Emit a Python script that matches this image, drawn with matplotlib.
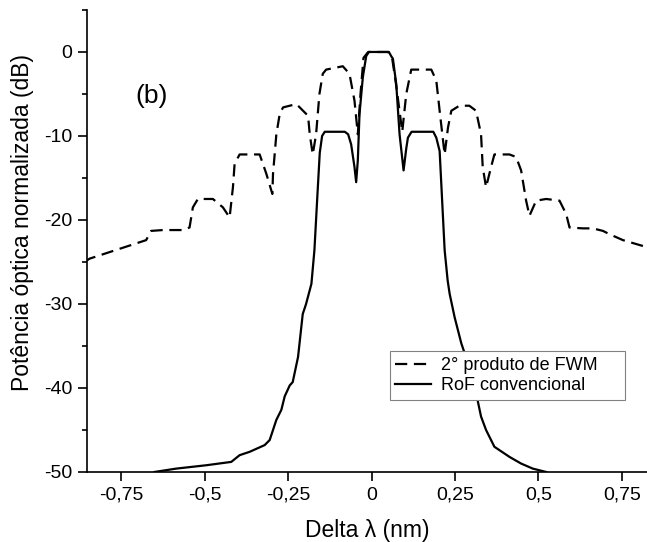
import matplotlib
matplotlib.use("Agg")
import matplotlib.pyplot as plt
import numpy as np

plt.rcParams['font.family'] = ['Liberation Sans', 'DejaVu Sans']
plt.rcParams['axes.unicode_minus'] = False

# RoF convencional (solid)
rof_x = [-0.65, -0.585, -0.495, -0.42, -0.395, -0.365, -0.32, -0.305, -0.285,
         -0.27, -0.26, -0.245, -0.236, -0.22, -0.206, -0.196, -0.18, -0.171,
         -0.162, -0.155, -0.148, -0.14, -0.08, -0.07, -0.061, -0.051, -0.046,
         -0.041, -0.036, -0.026, -0.016, -0.008, 0.052, 0.059, 0.064, 0.074,
         0.084, 0.096, 0.104, 0.109, 0.12, 0.185, 0.194, 0.204, 0.219, 0.228,
         0.234, 0.249, 0.269, 0.303, 0.328, 0.343, 0.368, 0.413, 0.448, 0.483,
         0.523]
rof_y = [-50.0, -49.6, -49.2, -48.8, -48.0, -47.6, -46.8, -46.2, -43.8,
         -42.6, -41.0, -39.7, -39.3, -36.3, -31.2, -30.0, -27.6, -23.6,
         -17.0, -12.0, -10.0, -9.5, -9.5, -9.8, -11.0, -13.7, -15.5,
         -12.9, -7.4, -3.0, -0.5, 0.0, 0.0, -0.5, -0.8, -3.8,
         -9.8, -14.1, -11.5, -10.2, -9.5, -9.5, -10.2, -11.8, -23.6, -27.2,
         -28.8, -31.6, -34.7, -38.7, -43.4, -45.0, -47.0, -48.2, -49.0, -49.6,
         -50.0]

# 2o produto de FWM (dashed)
fwm_x = [-0.86, -0.844, -0.675, -0.66, -0.625, -0.565, -0.545, -0.535, -0.52,
         -0.475, -0.445, -0.425, -0.415, -0.41, -0.395, -0.335, -0.315, -0.297,
         -0.295, -0.285, -0.275, -0.265, -0.225, -0.19, -0.185, -0.176, -0.166,
         -0.156, -0.146, -0.136, -0.086, -0.066, -0.051, -0.041, -0.033, -0.024,
         -0.01, 0.05, 0.062, 0.074, 0.092, 0.104, 0.119, 0.179, 0.194, 0.204,
         0.219, 0.229, 0.239, 0.263, 0.293, 0.313, 0.328, 0.333, 0.343, 0.358,
         0.368, 0.383, 0.413, 0.433, 0.448, 0.463, 0.473, 0.493, 0.523, 0.563,
         0.583, 0.593, 0.633, 0.663, 0.693, 0.713, 0.753, 0.83]
fwm_y = [-25.0, -24.6, -22.4, -21.3, -21.2, -21.2, -20.9, -18.5, -17.5,
         -17.5, -18.5, -19.7, -16.1, -13.3, -12.2, -12.2, -14.5, -16.9,
         -14.5, -9.8, -7.4, -6.6, -6.2, -7.6, -9.8, -12.2, -9.8,
         -5.0, -2.6, -2.1, -1.7, -2.6, -5.8, -9.8, -5.0, -0.7,
         0.0, 0.0, -0.8, -4.0, -9.5, -5.0, -2.1, -2.1, -3.4, -7.0,
         -12.2, -9.0, -7.0, -6.4, -6.4, -7.0, -9.8, -13.7, -16.1, -13.7,
         -12.2, -12.2, -12.2, -12.5, -14.1, -17.7, -19.5, -17.7, -17.5, -17.7,
         -19.3, -20.9, -21.0, -21.0, -21.3, -21.7, -22.4, -23.3]

xticks = [-0.75, -0.5, -0.25, 0, 0.25, 0.5, 0.75]
xtick_labels = ['-0,75', '-0,5', '-0,25', '0', '0,25', '0,5', '0,75']
yticks = [0, -10, -20, -30, -40, -50]

fig = plt.figure(figsize=(6.47, 5.42), dpi=100)
ax = fig.add_axes([0.1345, 0.1292, 0.8655, 0.8524])

ax.plot(fwm_x, fwm_y, color='black', lw=1.6, dashes=(5.5, 3),
        label='2° produto de FWM')
ax.plot(rof_x, rof_y, color='black', lw=1.6, label='RoF convencional')

ax.set_xlim(-0.852, 0.825)
ax.set_ylim(-50, 5)
ax.set_xticks(xticks)
ax.set_xticklabels(xtick_labels)
ax.set_yticks(yticks)
ax.set_yticks(np.arange(-45, 6, 10), minor=True)

for s in ['top', 'right']:
    ax.spines[s].set_visible(False)
ax.spines['left'].set_linewidth(1.2)
ax.spines['bottom'].set_linewidth(1.2)
ax.tick_params(axis='both', which='major', direction='out', length=6.5,
               width=1.2, labelsize=14, pad=4)
ax.tick_params(axis='y', which='minor', direction='out', length=3.6, width=1.2)

ax.set_xlabel('Delta λ (nm)', fontsize=16.5, labelpad=11)
ax.set_ylabel('Potência óptica normalizada (dB)', fontsize=16.5)
ax.yaxis.set_label_coords(-0.094, 0.541)

ax.text(-0.659, -5.2, '(b)', fontsize=19, ha='center', va='center')

leg = ax.legend(loc='lower left', bbox_to_anchor=(0.541, 0.156, 0.42, 0.11),
                mode='expand', fontsize=13, fancybox=False, framealpha=1,
                edgecolor='gray', handlelength=2.0, handletextpad=0.5,
                borderpad=0.3, labelspacing=0.2, borderaxespad=0)
leg.get_frame().set_linewidth(0.8)

fig.savefig('out.png', dpi=100)
